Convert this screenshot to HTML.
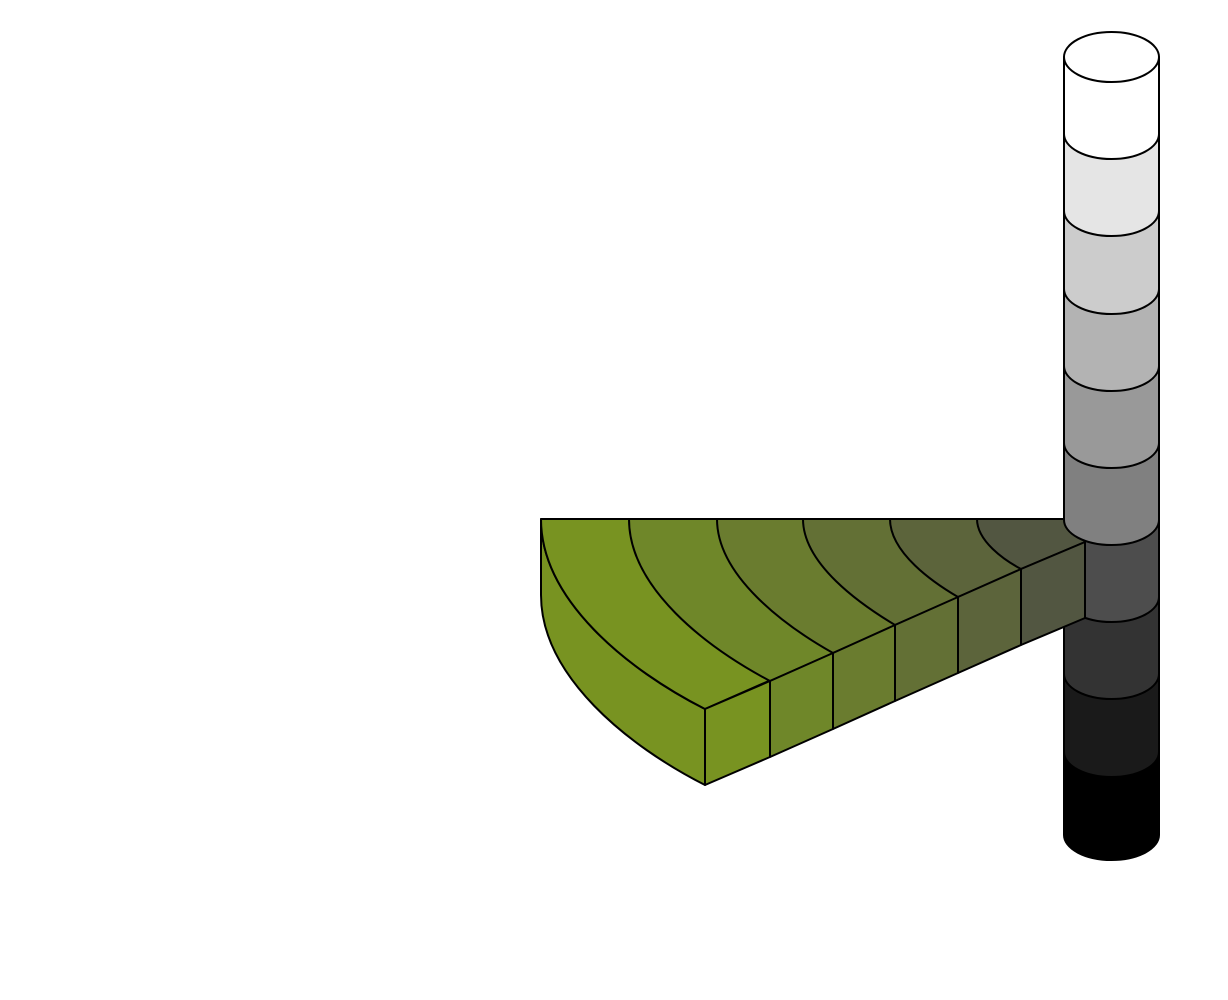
<!DOCTYPE html>
<html><head><meta charset="utf-8"><style>html,body{margin:0;padding:0;background:#fff}svg{display:block}</style></head>
<body>
<svg width="1228" height="1000" viewBox="0 0 1228 1000" xmlns="http://www.w3.org/2000/svg" stroke="#000" stroke-width="2" stroke-linejoin="round">
<g>
  <path d="M1064,752 L1064,835 A47.5,25 0 0 0 1159,835 L1159,752 Z" fill="#000"/>
  <path d="M1064,674 L1064,752 A47.5,25 0 0 0 1159,752 L1159,674 Z" fill="#1a1a1a"/>
  <path d="M1064,597 L1064,674 A47.5,25 0 0 0 1159,674 L1159,597 Z" fill="#333"/>
  <path d="M1064,520 L1064,597 A47.5,25 0 0 0 1159,597 L1159,520 Z" fill="#4d4d4d"/>
</g>
<g>
  <path d="M541,519 L541,595 C541,676 628,746 705,785 L705,709 C628,670 541,600 541,519 Z" fill="#789321"/>
  <path d="M541,519 C541,600 628,670 705,709 L1085,542 L1085,519 Z" fill="#789321"/>
  <path d="M629,519 C629,588 706,647 770,681 L1085,542 L1085,519 Z" fill="#6f8729"/>
  <path d="M717,519 C717,576 785,626 833,653 L1085,542 L1085,519 Z" fill="#6a7c2f"/>
  <path d="M803,519 C803,564 860,604 895,625 L1085,542 L1085,519 Z" fill="#637035"/>
  <path d="M890,519 C890,553 934,583 958,597 L1085,542 L1085,519 Z" fill="#5c643b"/>
  <path d="M977,519 C977,541 1004,560 1021,569 L1085,542 L1085,519 Z" fill="#525641"/>
  <path d="M705,709 L770,681 L770,757 L705,785 Z" fill="#789321"/>
  <path d="M770,681 L833,653 L833,729 L770,757 Z" fill="#6f8729"/>
  <path d="M833,653 L895,625 L895,701 L833,729 Z" fill="#6a7c2f"/>
  <path d="M895,625 L958,597 L958,673 L895,701 Z" fill="#637035"/>
  <path d="M958,597 L1021,569 L1021,645 L958,673 Z" fill="#5c643b"/>
  <path d="M1021,569 L1085,542 L1085,618 L1021,645 Z" fill="#525641"/>
</g>
<g>
  <path d="M1064,443 L1064,520 A47.5,25 0 0 0 1159,520 L1159,443 Z" fill="#808080"/>
  <path d="M1064,366 L1064,443 A47.5,25 0 0 0 1159,443 L1159,366 Z" fill="#999"/>
  <path d="M1064,289 L1064,366 A47.5,25 0 0 0 1159,366 L1159,289 Z" fill="#b3b3b3"/>
  <path d="M1064,211 L1064,289 A47.5,25 0 0 0 1159,289 L1159,211 Z" fill="#ccc"/>
  <path d="M1064,134 L1064,211 A47.5,25 0 0 0 1159,211 L1159,134 Z" fill="#e5e5e5"/>
  <path d="M1064,57 L1064,134 A47.5,25 0 0 0 1159,134 L1159,57 Z" fill="#fff"/>
  <ellipse cx="1111.5" cy="57" rx="47.5" ry="25" fill="#fff"/>
</g>
</svg>
</body></html>
